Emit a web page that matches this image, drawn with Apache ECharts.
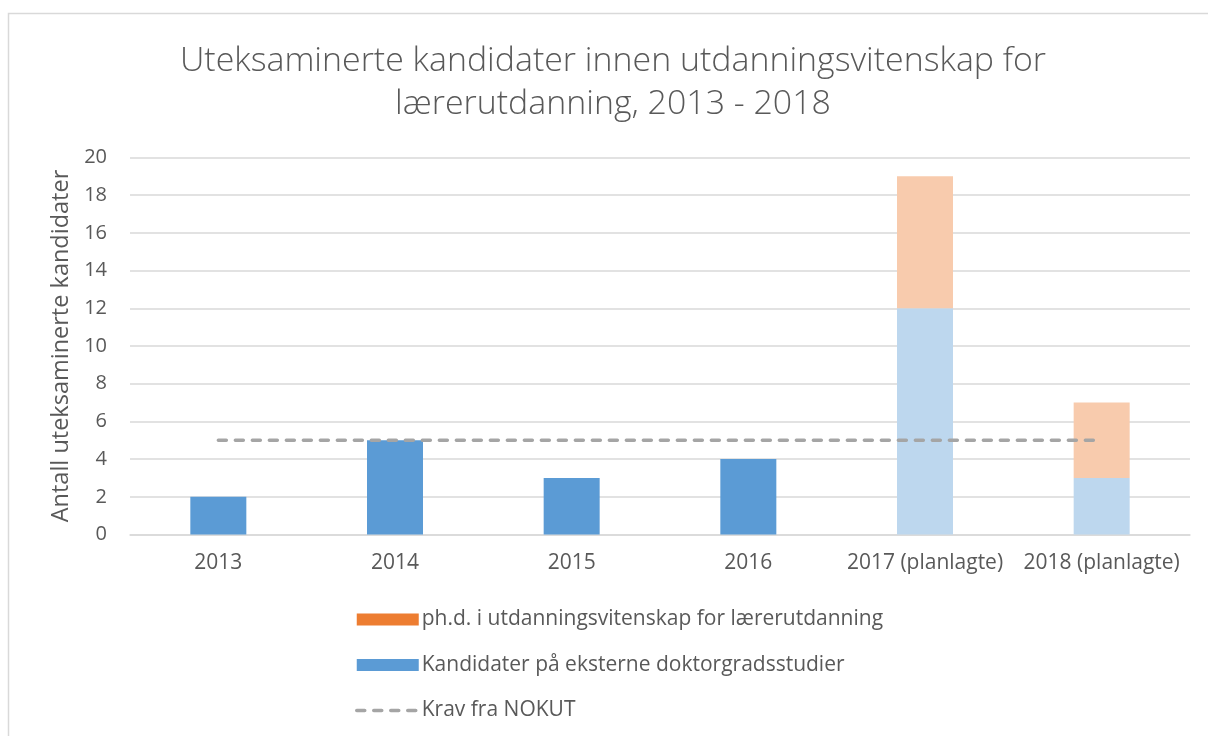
<!DOCTYPE html>
<html>
<head>
<meta charset="utf-8">
<script src="https://cdn.jsdelivr.net/npm/echarts@6/dist/echarts.min.js"></script>
<style>
  html, body { margin: 0; padding: 0; background: #ffffff; }
  #chart { width: 1208px; height: 736px; }
</style>
</head>
<body>
<div id="chart"></div>
<script>
// Years shown on the x axis
const categories = ['2013', '2014', '2015', '2016', '2017 (planlagte)', '2018 (planlagte)'];
// Years that are planned rather than realised (drawn in lighter tints)
const planned = [false, false, false, false, true, true];
// Candidates from external doctoral programmes
const eksterne = [2, 5, 3, 4, 12, 3];
// PhD in educational science for teacher education
const phd = [0, 0, 0, 0, 7, 4];
// NOKUT requirement
const krav = [5, 5, 5, 5, 5, 5];
// Y axis ticks
const yTicks = { min: 0, max: 20, interval: 2 };

const names = {
  phd: 'ph.d. i utdanningsvitenskap for lærerutdanning',
  ext: 'Kandidater på eksterne doktorgradsstudier',
  krav: 'Krav fra NOKUT'
};

const FONT = '"Open Sans", sans-serif';
const TEXT = '#595959';
const DASH = { color: '#A5A5A5', width: 3.5, type: [8, 9], cap: 'round' };

function tinted(values, solid, light) {
  return values.map((v, i) => ({
    value: v,
    itemStyle: { color: planned[i] ? light : solid }
  }));
}

const chart = echarts.init(document.getElementById('chart'));
chart.setOption({
  animation: false,
  backgroundColor: '#ffffff',
  textStyle: { fontFamily: FONT, color: TEXT },
  graphic: [{
    type: 'rect',
    shape: { x: 8.5, y: 13.5, width: 1400, height: 900 },
    style: { fill: 'none', stroke: '#D9D9D9', lineWidth: 1.5 },
    silent: true
  }],
  title: {
    text: 'Uteksaminerte kandidater innen utdanningsvitenskap for\nlærerutdanning, 2013 - 2018',
    left: 608,
    textAlign: 'center',
    top: 35,
    textStyle: {
      fontFamily: FONT,
      fontWeight: 300,
      fontSize: 33.9,
      lineHeight: 43,
      color: TEXT
    }
  },
  grid: { left: 130, right: 18, top: 157.5, bottom: 201.5 },
  legend: {
    orient: 'vertical',
    left: 350,
    top: 604,
    itemWidth: 62,
    itemHeight: 12,
    itemGap: 24.5,
    textStyle: { fontFamily: FONT, fontSize: 21, color: TEXT, padding: [0, 0, 0, -2] },
    data: [
      { name: names.phd, icon: 'rect', itemStyle: { color: '#ED7D31' } },
      { name: names.ext, icon: 'rect', itemStyle: { color: '#5B9BD5' } },
      { name: names.krav, itemStyle: { opacity: 0 }, lineStyle: DASH }
    ]
  },
  xAxis: {
    type: 'category',
    data: categories,
    axisLine: { lineStyle: { color: '#D9D9D9', width: 1.5 } },
    axisTick: { show: false },
    axisLabel: { fontFamily: FONT, fontSize: 21, color: TEXT, margin: 18, interval: 0, hideOverlap: false }
  },
  yAxis: {
    type: 'value',
    min: yTicks.min,
    max: yTicks.max,
    interval: yTicks.interval,
    name: 'Antall uteksaminerte kandidater',
    nameLocation: 'middle',
    nameRotate: 90,
    nameGap: 56,
    nameTextStyle: { fontFamily: FONT, fontSize: 23.5, color: TEXT },
    axisLine: { show: false },
    axisTick: { show: false },
    axisLabel: { fontFamily: FONT, fontSize: 20, color: TEXT, margin: 23 },
    splitLine: { lineStyle: { color: '#D9D9D9', width: 1.5 } }
  },
  series: [
    {
      name: names.ext,
      type: 'bar',
      stack: 'total',
      barWidth: 56,
      data: tinted(eksterne, '#5B9BD5', '#BDD7EE')
    },
    {
      name: names.phd,
      type: 'bar',
      stack: 'total',
      barWidth: 56,
      data: tinted(phd, '#ED7D31', '#F8CBAD')
    },
    {
      name: names.krav,
      type: 'line',
      data: krav,
      symbol: 'none',
      z: 5,
      itemStyle: { color: '#A5A5A5' },
      lineStyle: DASH
    }
  ]
});
</script>
</body>
</html>
